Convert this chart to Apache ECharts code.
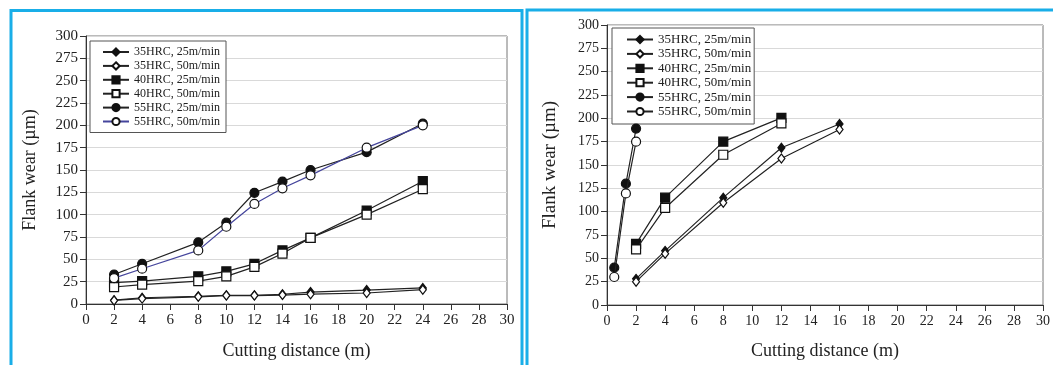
<!DOCTYPE html>
<html>
<head>
<meta charset="utf-8">
<script src="https://cdn.jsdelivr.net/npm/echarts@6/dist/echarts.min.js"></script>
<style>
html,body{margin:0;padding:0;background:#fff;}
#c{width:1053px;height:365px;}
</style>
</head>
<body>
<div id="c"></div>
<script>
// ---- data ----
var seriesNames = ['35HRC, 25m/min','35HRC, 50m/min','40HRC, 25m/min','40HRC, 50m/min','55HRC, 25m/min','55HRC, 50m/min'];
var xTicks = [0,2,4,6,8,10,12,14,16,18,20,22,24,26,28,30];
var yTicks = [0,25,50,75,100,125,150,175,200,225,250,275,300];
var xAxisTitle = 'Cutting distance (m)';
var yAxisTitle = 'Flank wear (µm)';

// left panel
var xLeft = [2,4,8,10,12,14,16,20,24];
var left35_25 = [4.3,7,8.7,9.8,9.8,10.9,13.4,15.6,18];
var left35_50 = [4,6,8,9.4,9.4,10,11,12.3,16];
var left40_25 = [24,25.7,31,36.5,45,60,74,104.6,137.5];
var left40_50 = [19,21.7,25.7,31,41.6,56.5,74,100,128.5];
var left55_25 = [33,45,69,91,124.5,137,150,170,202];
var left55_50 = [29,39.5,60,86.5,112,129.5,144,175,200];

// right panel
var xRight35 = [2,4,8,12,16];
var right35_25 = [28,58,115,168.5,194];
var right35_50 = [25,55,109.6,157,188];
var xRight40 = [2,4,8,12];
var right40_25 = [65.5,115,175,200.5];
var right40_50 = [59.5,104,161,194.5];
var xRight55 = [0.5,1.3,2];
var right55_25 = [40,130,189];
var right55_50 = [30,119.5,175];

// ---- build ----
function pairs(xs, ys){ return xs.map(function(x,i){ return [x, ys[i]]; }); }
var FONT = 'Liberation Serif';
var SUF = '\u200b';
var styles = [
  {symbol:'diamond', fill:'#111', size:[7,9]},
  {symbol:'diamond', fill:'#fff', size:[7,9]},
  {symbol:'rect', fill:'#111', size:9},
  {symbol:'rect', fill:'#fff', size:9},
  {symbol:'circle', fill:'#111', size:9},
  {symbol:'circle', fill:'#fff', size:9}
];
var leftData = [pairs(xLeft,left35_25), pairs(xLeft,left35_50), pairs(xLeft,left40_25), pairs(xLeft,left40_50), pairs(xLeft,left55_25), pairs(xLeft,left55_50)];
var rightData = [pairs(xRight35,right35_25), pairs(xRight35,right35_50), pairs(xRight40,right40_25), pairs(xRight40,right40_50), pairs(xRight55,right55_25), pairs(xRight55,right55_50)];

var series = [];
seriesNames.forEach(function(n,i){
  var lc = (i===5) ? '#45459c' : '#222';
  series.push({
    name:n, type:'line', xAxisIndex:0, yAxisIndex:0, data:leftData[i],
    symbol:styles[i].symbol, symbolSize:styles[i].size, showAllSymbol:true,
    lineStyle:{color:lc, width:1.2},
    itemStyle:{color:styles[i].fill, borderColor:'#111', borderWidth:1.2},
    emphasis:{disabled:true}, animation:false, z: 2+i
  });
});
seriesNames.forEach(function(n,i){
  series.push({
    name:n+SUF, type:'line', xAxisIndex:1, yAxisIndex:1, data:rightData[i],
    symbol:styles[i].symbol, symbolSize:styles[i].size, showAllSymbol:true,
    lineStyle:{color:'#222', width:1.2},
    itemStyle:{color:styles[i].fill, borderColor:'#111', borderWidth:1.2},
    emphasis:{disabled:true}, animation:false, z: 2+i
  });
});

function xAx(gi, fs, nfs, gap){
  return {
    gridIndex:gi, type:'value', min:0, max:30, interval:2,
    axisLine:{show:true, lineStyle:{color:'#333', width:1}},
    axisTick:{show:true, inside:false, length:6, lineStyle:{color:'#333'}},
    axisLabel:{color:'#222', fontFamily:FONT, fontSize:fs, margin:9,
      formatter:function(v){ return xTicks.indexOf(v)>=0 ? String(v) : ''; }},
    splitLine:{show:false},
    name:xAxisTitle, nameLocation:'middle', nameGap:gap,
    nameTextStyle:{color:'#222', fontFamily:FONT, fontSize:nfs}
  };
}
function yAx(gi, fs, nfs, gap){
  return {
    gridIndex:gi, type:'value', min:0, max:300, interval:25,
    axisLine:{show:true, lineStyle:{color:'#333', width:1}},
    axisTick:{show:true, inside:false, length:6, lineStyle:{color:'#333'}},
    axisLabel:{color:'#222', fontFamily:FONT, fontSize:fs, margin:8,
      formatter:function(v){ return yTicks.indexOf(v)>=0 ? String(v) : ''; }},
    splitLine:{show:true, lineStyle:{color:'#d9d9d9', width:1}},
    name:yAxisTitle, nameLocation:'middle', nameGap:gap,
    nameTextStyle:{color:'#222', fontFamily:FONT, fontSize:nfs}
  };
}

var option = {
  backgroundColor:'#fff',
  animation:false,
  grid:[
    {left:86, top:36, width:421, height:279, show:true, borderColor:'#777', borderWidth:1, backgroundColor:'transparent'},
    {left:607, top:25, width:440, height:286, show:true, borderColor:'#777', borderWidth:1, backgroundColor:'transparent'}
  ],
  xAxis:[xAx(0,15,18,38), xAx(1,14,18,37)],
  yAxis:[yAx(0,15,18,47), yAx(1,14,19,47)],
  legend:[
    {data:seriesNames.slice(), orient:'vertical', left:90, top:41,
     itemWidth:26, itemHeight:9, itemGap:1.9, padding:[5,6,5,12],
     borderColor:'#555', borderWidth:1, backgroundColor:'#fff',
     selectedMode:false, inactiveColor:'#222',
     textStyle:{color:'#222', fontFamily:FONT, fontSize:12}},
    {data:seriesNames.map(function(n){return n+SUF;}), orient:'vertical', left:612, top:28,
     itemWidth:26, itemHeight:9, itemGap:1.4, padding:[5,3,6,14],
     borderColor:'#555', borderWidth:1, backgroundColor:'#fff',
     selectedMode:false,
     formatter:function(n){ return n.replace(SUF,''); },
     textStyle:{color:'#222', fontFamily:FONT, fontSize:13}}
  ],
  graphic:[
    {type:'polyline', shape:{points:[[11,370],[11,10.5],[522,10.5],[522,370]]}, style:{stroke:'#19aee8', lineWidth:3, fill:null}, z:100},
    {type:'polyline', shape:{points:[[527,370],[527,10],[1060,10]]}, style:{stroke:'#19aee8', lineWidth:3, fill:null}, z:100}
  ],
  series:series
};

var chart = echarts.init(document.getElementById('c'), null, {renderer:'canvas'});
chart.setOption(option);
</script>
</body>
</html>
